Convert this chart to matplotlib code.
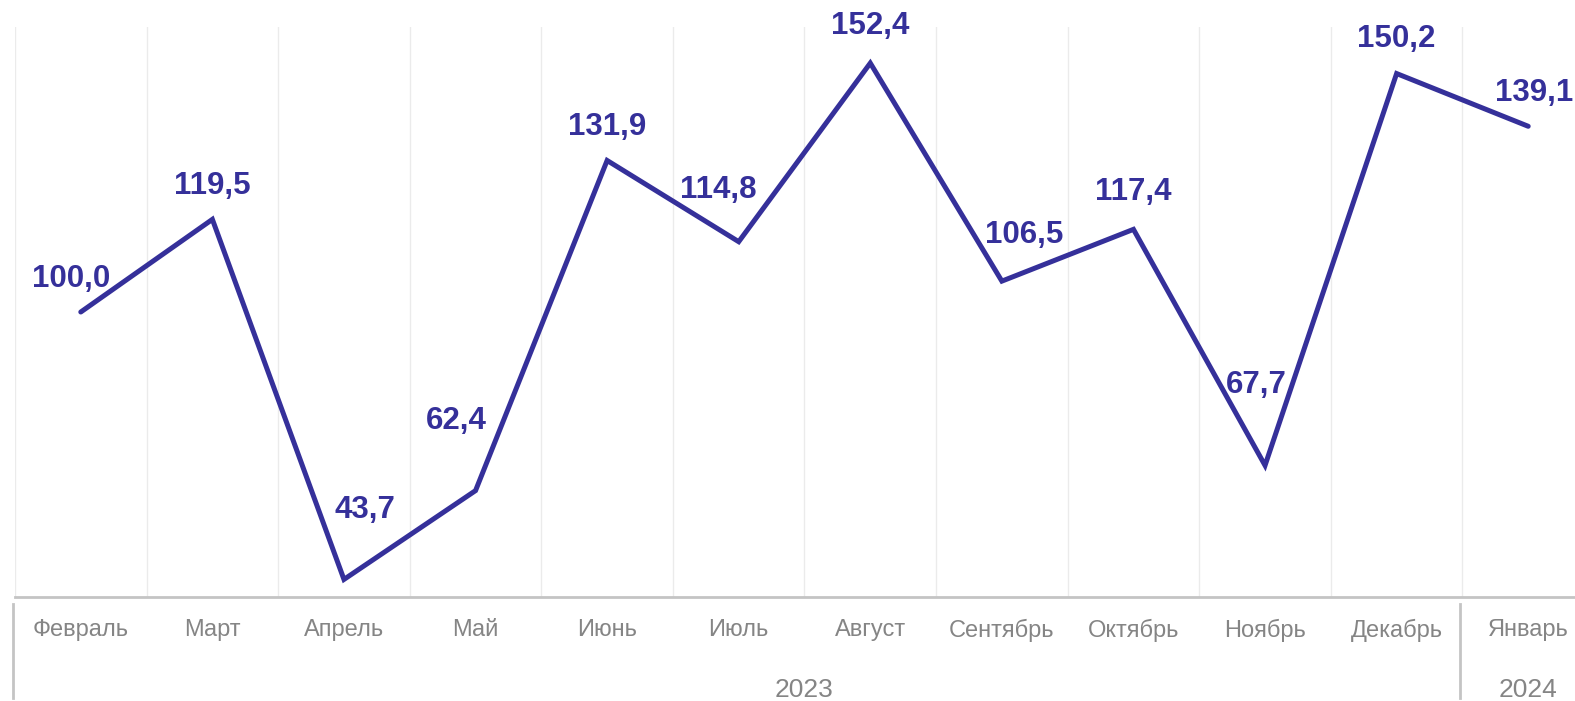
import matplotlib.pyplot as plt
from matplotlib.transforms import blended_transform_factory

plt.rcParams['font.family'] = ['Liberation Sans', 'DejaVu Sans']

months = ['Февраль', 'Март', 'Апрель', 'Май', 'Июнь', 'Июль', 'Август',
          'Сентябрь', 'Октябрь', 'Ноябрь', 'Декабрь', 'Январь']
values = [100.0, 119.5, 43.7, 62.4, 131.9, 114.8, 152.4, 106.5, 117.4, 67.7, 150.2, 139.1]
years = ['2023', '2024']
year_spans = [(0, 10), (11, 11)]

# label offsets in points (dx, dy) from each point
offsets = [(-7, 24), (0, 24), (15, 50), (-14, 50), (0, 24), (-15, 37),
           (0, 27), (16, 33), (0, 27), (-6, 58), (0, 25), (4, 24)]

color = '#35309a'
grey = '#c4c4c4'
text_grey = '#858585'

fig = plt.figure(figsize=(15.75, 7.01), dpi=100)
ax = fig.add_axes([15 / 1575, 104 / 701, 1579 / 1575, 570 / 701])

x = list(range(len(months)))
ax.plot(x, values, color=color, lw=3.6, solid_joinstyle='miter', solid_capstyle='round')

for xi, v, (dx, dy) in zip(x, values, offsets):
    ax.annotate(f'{v:.1f}'.replace('.', ','), (xi, v), xytext=(dx, dy),
                textcoords='offset points', ha='center', va='center',
                fontsize=22.5, fontweight='bold', color=color)

ax.set_xlim(-0.5, len(months) - 0.5)
ax.set_ylim(40, 160)
ax.set_yticks([])
ax.set_xticks(x)
ax.set_xticklabels(months, fontsize=17, color=text_grey)
ax.tick_params(axis='x', length=0, pad=16)
for b in [i - 0.5 for i in range(len(months))]:
    ax.axvline(b, color='#ebebeb', lw=1, zorder=0)

for s in ['top', 'right', 'left']:
    ax.spines[s].set_visible(False)
ax.spines['bottom'].set_color(grey)
ax.spines['bottom'].set_linewidth(2)

tr = blended_transform_factory(ax.transData, ax.transAxes)
for (a, b), yr in zip(year_spans, years):
    ax.plot([a - 0.515, a - 0.515], [-0.012, -0.178], color=grey, lw=2,
            transform=tr, clip_on=False)
    ax.text((a + b) / 2 + 0.5 if b > a else a, -0.164, yr, transform=tr,
            ha='center', va='center', fontsize=19, color=text_grey)

fig.savefig('out.png', dpi=100)
